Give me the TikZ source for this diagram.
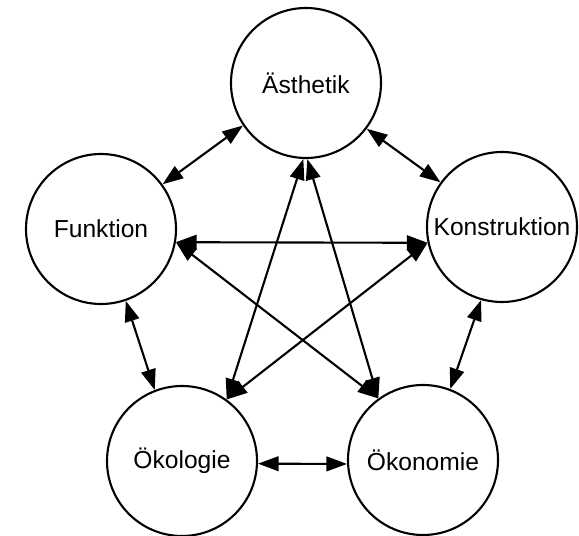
\documentclass[tikz,border=0pt]{standalone}
\usepackage{fontspec}
\setmainfont{Liberation Sans}
\usetikzlibrary{arrows.meta}

\begin{document}
\begin{tikzpicture}[
    aspect/.style={circle, draw, line width=1.8pt, minimum size=4.5cm, inner sep=0pt, font=\fontsize{21}{25}\selectfont},
    link/.style={{Triangle[length=0.62cm,width=0.44cm]}-{Triangle[length=0.62cm,width=0.44cm]}, line width=1.8pt}
]
    \useasboundingbox (0,0) rectangle (17.37,16.08);

    % Draw the five aspects
    \node[aspect] (aesth) at (9.18,13.59) {Ästhetik};
    \node[aspect] (funk)  at (3.03,9.21)  {Funktion};
    \node[aspect] (konst) at (15.06,9.27) {Konstruktion};
    \node[aspect] (oekol) at (5.46,2.25)  {Ökologie};
    \node[aspect] (oekon) at (12.69,2.28) {Ökonomie};

    % Outer ring
    \draw[link] (aesth.214) -- (funk.36);
    \draw[link] (aesth.323) -- (konst.144);
    \draw[link] (funk.289) -- (oekol.111);
    \draw[link] (konst.254) -- (oekon.69);
    \draw[link] (oekol.-2) -- (oekon.183);

    % Inner star
    \draw[link] (aesth.268) -- (oekol.54);
    \draw[link] (aesth.271) -- (oekon.126);
    \draw[link] (funk.-10) -- (konst.192);
    \draw[link] (funk.-10) -- (oekon.126);
    \draw[link] (konst.192) -- (oekol.54);
\end{tikzpicture}
\end{document}
